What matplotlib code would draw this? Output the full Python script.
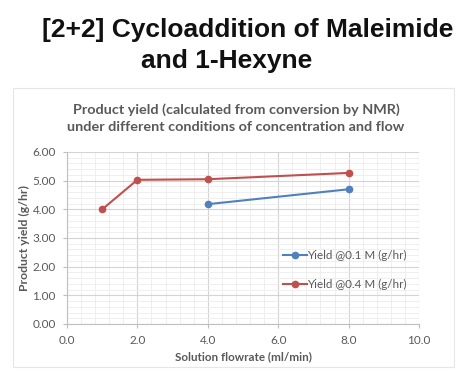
import matplotlib.pyplot as plt
from matplotlib.patches import Rectangle
from matplotlib.ticker import MultipleLocator

# Datos
x_01 = [4, 8]
y_01 = [4.18, 4.70]
x_04 = [1, 2, 4, 8]
y_04 = [4.00, 5.03, 5.05, 5.27]
etiquetas = ['Yield @0.1 M (g/hr)', 'Yield @0.4 M (g/hr)']

fig = plt.figure(figsize=(4.69, 3.76), dpi=100)

# marco del grafico
marco = Rectangle((13/469, 1-367/376), 441/469, 279/376, transform=fig.transFigure,
                  facecolor='white', edgecolor='#e6e6e6', linewidth=0.8, zorder=-1)
fig.add_artist(marco)

fig.text(248/469, 1-30/376, '[2+2] Cycloaddition of Maleimide', ha='center', va='center',
         fontsize=19, fontweight='bold', family='Liberation Sans', color='#111111')
fig.text(227/469, 1-61/376, 'and 1-Hexyne', ha='center', va='center',
         fontsize=19, fontweight='bold', family='Liberation Sans', color='#111111')

fig.text(236/469, 1-118/376, 'Product yield (calculated from conversion by NMR)\nunder different conditions of concentration and flow',
         ha='center', va='center', fontsize=10.4, fontweight='bold', family='Lato',
         color='#595959', linespacing=1.45)

ax = fig.add_axes([67/469, 1-324/376, 352/469, 172/376])
ax.plot(x_01, y_01, '-o', color='#4F81BD', markersize=4.5, linewidth=1.5, label=etiquetas[0])
ax.plot(x_04, y_04, '-o', color='#C0504D', markersize=4.5, linewidth=1.5, label=etiquetas[1])

ax.set_xlim(0, 10)
ax.set_ylim(0, 6)
ax.xaxis.set_major_locator(MultipleLocator(2))
ax.xaxis.set_minor_locator(MultipleLocator(0.4))
ax.yaxis.set_major_locator(MultipleLocator(1))
ax.yaxis.set_minor_locator(MultipleLocator(0.2))
ax.set_xticklabels([f'{v:.1f}' for v in ax.get_xticks()])
ax.set_yticklabels([f'{v:.2f}' for v in ax.get_yticks()])
ax.grid(True, which='major', color='#d4d4d4', linewidth=0.8)
ax.grid(True, which='minor', color='#ececec', linewidth=0.6)
ax.set_axisbelow(True)
for s in ['top', 'right']:
    ax.spines[s].set_visible(False)
for s in ['bottom', 'left']:
    ax.spines[s].set_color('#bfbfbf')
    ax.spines[s].set_linewidth(0.8)
ax.tick_params(which='major', length=3, color='#bfbfbf', labelsize=8.5, labelcolor='#595959', pad=5)
ax.tick_params(which='minor', length=0)
for lbl in ax.get_xticklabels() + ax.get_yticklabels():
    lbl.set_family('Lato')

ax.set_xlabel('Solution flowrate (ml/min)', fontsize=8.4, fontweight='bold', family='Lato',
              color='#595959', labelpad=4)
ax.set_ylabel('Product yield (g/hr)', fontsize=8.8, fontweight='bold', family='Lato',
              color='#595959', labelpad=2)

leg = ax.legend(loc='center left', bbox_to_anchor=(0.585, 0.315), frameon=False,
                prop={'family': 'Lato', 'size': 8.4}, labelspacing=1.5,
                handlelength=2.0, handletextpad=0.0)
for t in leg.get_texts():
    t.set_color('#595959')

fig.savefig('out.png', dpi=100)
